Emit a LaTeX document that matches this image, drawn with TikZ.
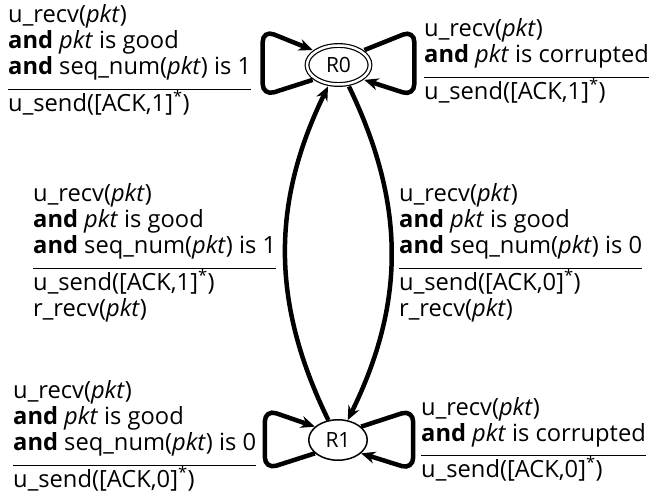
\documentclass[tikz,border=0pt]{standalone}
\usepackage{fontspec}
\setmainfont{Open Sans}
\usetikzlibrary{arrows.meta,positioning,shapes}
\setlength{\arrayrulewidth}{1.5pt}
\newcommand{\pkt}{\textit{pkt}}
\newcommand{\band}{\textbf{and}}
\newcommand{\guardtext}[2]{\begin{tabular}[t]{@{}l@{}}#1\\[6pt]\hline #2\end{tabular}}

\begin{document}
\begin{tikzpicture}[x=1pt,y=-1pt,font=\fontsize{23.7}{26}\selectfont,
    state/.style={ellipse,draw,line width=1.5pt,inner sep=0pt,minimum width=58.5pt,minimum height=40.5pt,font=\fontsize{21}{25}\selectfont},
    trans/.style={line width=4.5pt,-{Stealth[length=14pt,width=12pt]}},
    guard/.style={anchor=base west,inner sep=0pt}]
      \useasboundingbox (0,0) rectangle (651,494);
      \node[state,double,double distance=2.5pt,line width=1.2pt,minimum width=63pt,minimum height=39pt,outer sep=3pt] (R0) at (338.5,65) {R0};
      \node[state] (R1) at (338,440) {R1};
      \draw[trans] (R0) to[bend left=26] (R1);
      \draw[trans] (R1) to[bend left=26] (R0);
      \draw[trans,rounded corners=12pt] (R0.210) -- ++(-50,16) -- ++(0,-66) -- (R0.150);
      \draw[trans,rounded corners=12pt] (R0.30) -- ++(50,-20) -- ++(0,66) -- (R0.330);
      \draw[trans,rounded corners=12pt] (R1.210) -- ++(-50,16) -- ++(0,-60) -- (R1.150);
      \draw[trans,rounded corners=12pt] (R1.30) -- ++(52,-17) -- ++(0,60) -- (R1.330);
      \node[guard] (g00) at (8,23) {\guardtext{u\_recv(\pkt)\\ \band\ \pkt\ is good\\ \band\ seq\_num(\pkt) is 1}{u\_send([ACK,1]\textsuperscript{*})}};
      \node[guard] (g00c) at (424,37) {\guardtext{u\_recv(\pkt)\\ \band\ \pkt\ is corrupted}{u\_send([ACK,1]\textsuperscript{*})}};
      \node[guard] (g10) at (33,202) {\guardtext{u\_recv(\pkt)\\ \band\ \pkt\ is good\\ \band\ seq\_num(\pkt) is 1}{u\_send([ACK,1]\textsuperscript{*})\\ r\_recv(\pkt)}};
      \node[guard] (g01) at (399,202) {\guardtext{u\_recv(\pkt)\\ \band\ \pkt\ is good\\ \band\ seq\_num(\pkt) is 0}{u\_send([ACK,0]\textsuperscript{*})\\ r\_recv(\pkt)}};
      \node[guard] (g11) at (13,399) {\guardtext{u\_recv(\pkt)\\ \band\ \pkt\ is good\\ \band\ seq\_num(\pkt) is 0}{u\_send([ACK,0]\textsuperscript{*})}};
      \node[guard] (g11c) at (421,415) {\guardtext{u\_recv(\pkt)\\ \band\ \pkt\ is corrupted}{u\_send([ACK,0]\textsuperscript{*})}};
    \end{tikzpicture}
\end{document}
